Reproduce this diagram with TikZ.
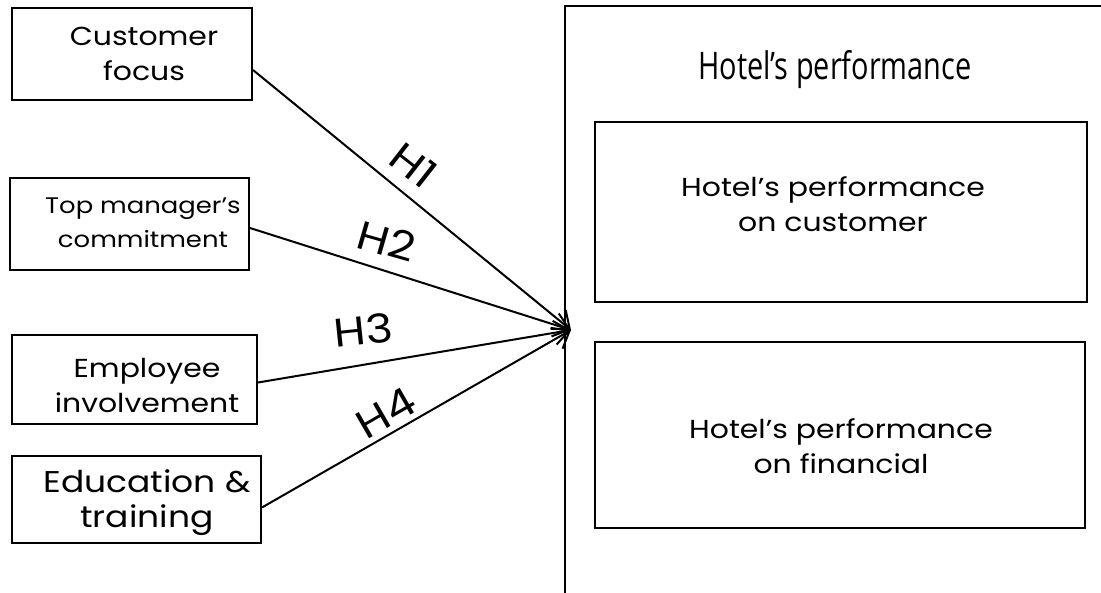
\documentclass[tikz,border=0pt]{standalone}
\usepackage{fontspec}
\setmainfont{Poppins}[FakeStretch=1.15]
\newfontfamily\titlefont{Open Sans}
\usetikzlibrary{arrows.meta}
\begin{document}
\begin{tikzpicture}[x=1pt,y=-1pt,
  box/.style={draw,line width=2pt,inner sep=0pt},
  lbl/.style={font=\fontsize{26}{35}\selectfont,align=center,inner sep=0pt},
  hyp/.style={font=\fontsize{40}{40}\selectfont,inner sep=0pt},
  arr/.style={line width=2pt,-{Straight Barb[length=15pt,width=24pt,line width=2pt]}}]
\useasboundingbox (0,0) rectangle (1101,593);
% left boxes
\node[box,minimum width=240pt,minimum height=92pt] (cf) at (132,54) {};
\node[box,minimum width=239pt,minimum height=92pt] (tm) at (129.5,224) {};
\node[box,minimum width=245pt,minimum height=89pt] (ei) at (134.5,379.5) {};
\node[box,minimum width=249pt,minimum height=87pt] (et) at (136.5,499.5) {};
\node[lbl] (cft) at (144,54) {Customer\\focus};
\node[lbl,font=\fontsize{22.5}{34}\selectfont] (tmt) at (143,223) {Top manager’s\\commitment};
\node[lbl] (eit) at (147,385) {Employee\\involvement};
\node[lbl,font=\fontsize{30}{35}\selectfont] (ett) at (147,503) {Education \&\\training};
% outer box
\node[draw,line width=2pt,minimum width=560pt,minimum height=620pt,anchor=north west,inner sep=0pt] (perf) at (564,5) {};
\node[inner sep=0pt] (pt) at (835,70) {\titlefont\fontsize{38}{38}\selectfont\scalebox{0.76}[1]{Hotel’s performance}};
\node[box,minimum width=492pt,minimum height=180pt] (pc) at (841,212) {};
\node[box,minimum width=490pt,minimum height=186pt] (pf) at (840,435) {};
\node[lbl] (pct) at (833,204) {Hotel’s performance\\on customer};
\node[lbl] (pft) at (841,446) {Hotel’s performance\\on financial};
% connectors
\coordinate (tip) at (571,330);
\draw[arr] ([yshift=-16pt]cf.east) -- (tip);
\draw[arr] ([yshift=-4pt]tm.east) -- (tip);
\draw[arr] ([yshift=-3pt]ei.east) -- (tip);
\draw[arr] ([yshift=-8pt]et.east) -- (tip);
\node[hyp,rotate=-38] (h1) at (414,165) {H1};
\node[hyp,rotate=-16] (h2) at (386.5,241) {H2};
\node[hyp,rotate=6] (h3) at (363.5,330) {H3};
\node[hyp,rotate=30] (h4) at (386,412.5) {H4};
\end{tikzpicture}
\end{document}
